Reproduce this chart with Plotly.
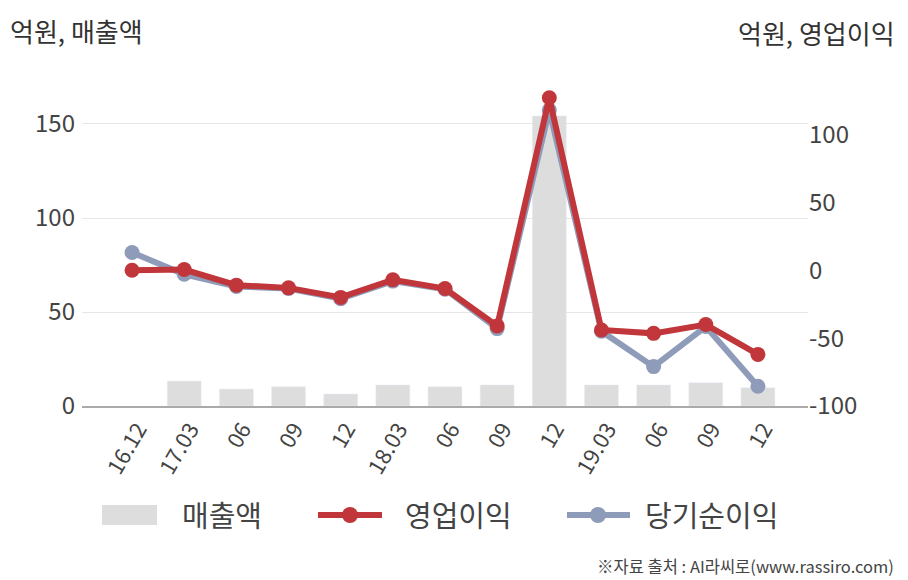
import plotly.graph_objects as go

periods = ["16.12", "17.03", "06", "09", "12", "18.03", "06", "09", "12", "19.03", "06", "09", "12"]
revenue = [None, 13.3, 9.0, 10.3, 6.4, 11.2, 10.3, 11.2, 154.3, 11.2, 11.2, 12.4, 9.7]
op_income = [0, 0.5, -11, -13, -20, -7, -13.5, -41, 127, -44, -46.5, -40, -62]
net_income = [13, -3, -12, -13.5, -21, -8, -14, -43, 118, -45, -71, -41.5, -85.5]
left_ticks = [0, 50, 100, 150]
right_ticks = [-100, -50, 0, 50, 100]
right_ticktext = ["-100", "-50", "0", "50", "100"]
legend_names = ["매출액", "영업이익", "당기순이익"]

x_idx = list(range(len(periods)))
FONT = "Noto Sans CJK KR"
RED = "#C1363A"
BLUE = "#8E9BB9"
BAR = "#DDDDDD"
TXT = "#444444"

# page offset (browser body margin) and plot area in screen pixels
OFF = 8
PL, PR, PT, PB = 82, 808, 80, 406


def px(xs):
    return (xs - PL) / (PR - PL)


def py(ys):
    return (PB - ys) / (PB - PT)


fig = go.Figure()
fig.add_trace(go.Bar(
    x=x_idx, y=revenue, name=legend_names[0], marker_color=BAR, width=0.65,
    yaxis="y", hoverinfo="skip"))
fig.add_trace(go.Scatter(
    x=x_idx, y=net_income, name=legend_names[2], mode="lines+markers",
    line=dict(color=BLUE, width=6), marker=dict(color=BLUE, size=15),
    yaxis="y2"))
fig.add_trace(go.Scatter(
    x=x_idx, y=op_income, name=legend_names[1], mode="lines+markers",
    line=dict(color=RED, width=6), marker=dict(color=RED, size=15),
    yaxis="y2"))

# custom legend (screen pixel positions)
LY = 515
shapes = [
    dict(type="rect", xref="paper", yref="paper", x0=px(102), x1=px(157),
         y0=py(LY + 10), y1=py(LY - 10), fillcolor=BAR, line=dict(width=0)),
    dict(type="line", xref="paper", yref="paper", x0=px(318), x1=px(382),
         y0=py(LY), y1=py(LY), line=dict(color=RED, width=6)),
    dict(type="circle", xref="paper", yref="paper", x0=px(342), x1=px(358),
         y0=py(LY + 8), y1=py(LY - 8), fillcolor=RED, line=dict(width=0)),
    dict(type="line", xref="paper", yref="paper", x0=px(567), x1=px(630),
         y0=py(LY), y1=py(LY), line=dict(color=BLUE, width=6)),
    dict(type="circle", xref="paper", yref="paper", x0=px(590), x1=px(606),
         y0=py(LY + 8), y1=py(LY - 8), fillcolor=BLUE, line=dict(width=0)),
]
legend_x = [180, 403, 643]
annotations = [
    dict(text=name, xref="paper", yref="paper", x=px(lx), y=py(LY - 1),
         xanchor="left", yanchor="middle", showarrow=False,
         font=dict(size=29, color=TXT))
    for name, lx in zip(legend_names, legend_x)
]
annotations += [
    dict(text="억원, 매출액", xref="paper", yref="paper", x=px(8), y=py(30),
         xanchor="left", yanchor="middle", showarrow=False,
         font=dict(size=26, color="#333333")),
    dict(text="억원, 영업이익", xref="paper", yref="paper", x=px(897), y=py(33),
         xanchor="right", yanchor="middle", showarrow=False,
         font=dict(size=26, color="#333333")),
    dict(text="※자료 출처 : AI라씨로(www.rassiro.com)", xref="paper", yref="paper",
         x=px(896), y=py(566), xanchor="right", yanchor="middle",
         showarrow=False, font=dict(size=16.5, color=TXT)),
]

fig.update_layout(
    width=908 - OFF, height=580 - OFF,
    margin=dict(l=PL - OFF, r=908 - PR, t=PT - OFF, b=580 - PB),
    paper_bgcolor="white", plot_bgcolor="white",
    font=dict(family=FONT, color=TXT, size=22),
    showlegend=False,
    xaxis=dict(
        range=[-0.96, 12.96], tickmode="array", tickvals=x_idx, ticktext=periods,
        tickangle=-60, tickfont=dict(size=22, color=TXT),
        ticklabelshift=6,
        showgrid=False, showline=True, linecolor="#AAAAAA", linewidth=1.5,
        ticks="", zeroline=False),
    yaxis=dict(
        range=[0, 173.4], tickmode="array", tickvals=left_ticks,
        showgrid=True, gridcolor="#E6E6E6", gridwidth=1,
        zeroline=False, showline=False, ticks="",
        tickfont=dict(size=24, color=TXT), ticklabelstandoff=6),
    yaxis2=dict(
        range=[-100, 140.1], overlaying="y", side="right",
        tickmode="array", tickvals=right_ticks, ticktext=right_ticktext,
        showgrid=False, zeroline=False, showline=False, ticks="",
        tickfont=dict(size=24, color=TXT)),
    shapes=shapes,
    annotations=annotations,
)

fig.write_html("out.html")
